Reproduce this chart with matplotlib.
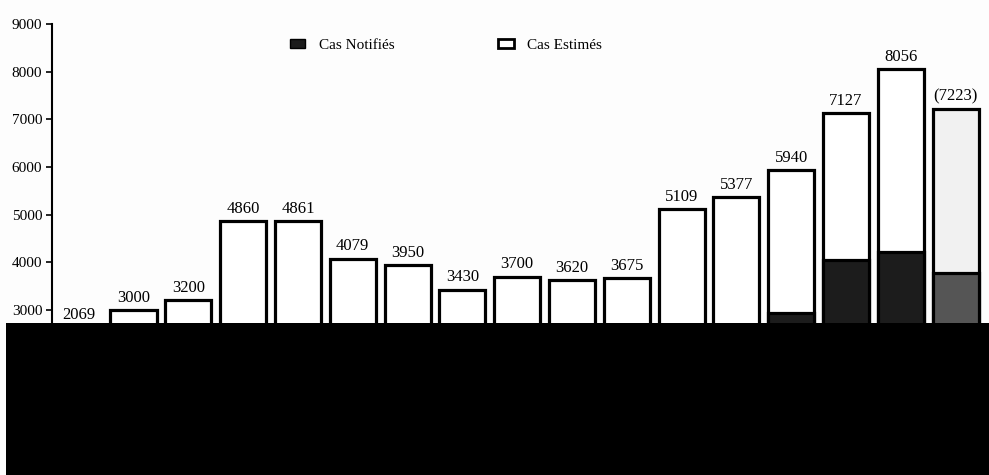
import matplotlib
matplotlib.use('Agg')
import matplotlib.pyplot as plt
from matplotlib.patches import Patch, Rectangle

plt.rcParams['font.family'] = ['Liberation Serif', 'DejaVu Serif']

# Estimated cases (white bars) and notified cases (dark part of each bar)
estimes = [2069, 3000, 3200, 4860, 4861, 4079, 3950, 3430, 3700, 3620, 3675,
           5109, 5377, 5940, 7127, 8056, 7223]
# notified values of the first bars lie under the masked area, rough guesses
notifies = [1200, 1500, 1600, 1900, 2000, 1800, 1900, 1700, 1800, 1900, 2100,
            2300, 2500, 2930, 4050, 4220, 3780]
etiquettes = ['2069', '3000', '3200', '4860', '4861', '4079', '3950', '3430',
              '3700', '3620', '3675', '5109', '5377', '5940', '7127', '8056',
              '(7223)']
yticks = [0, 1000, 2000, 3000, 4000, 5000, 6000, 7000, 8000, 9000]

fig = plt.figure(figsize=(9.89, 4.75), dpi=100)
fig.patch.set_facecolor('#fdfdfd')
ax = fig.add_axes([52 / 989, 22 / 475, 1 - 52 / 989, 429 / 475])
ax.set_facecolor('#fdfdfd')

x = list(range(len(estimes)))
# last bar is a provisional estimate: lighter shading
fill_est = ['white'] * (len(x) - 1) + ['#f1f1f1']
fill_not = ['#1c1c1c'] * (len(x) - 1) + ['#555555']

ax.bar(x, estimes, width=0.84, color=fill_est, edgecolor='black', linewidth=2.3, zorder=2)
ax.bar(x, notifies, width=0.84, color=fill_not, edgecolor='black', linewidth=2.3, zorder=3)

for xi, v, lab in zip(x, estimes, etiquettes):
    # the first label sits just above the cut-off in the original
    ax.annotate(lab, (xi, max(v, 2650)), xytext=(0, 3), textcoords='offset points',
                ha='center', va='bottom', fontsize=12)

ax.set_xlim(-0.487, 16.61)
ax.set_ylim(0, 9000)
ax.set_yticks(yticks)
ax.set_yticklabels([str(t) for t in yticks], fontsize=11)
ax.set_xticks([])
ax.tick_params(axis='y', direction='out', length=4, width=1.2, pad=3)
for side in ['top', 'right', 'bottom']:
    ax.spines[side].set_visible(False)
ax.spines['left'].set_linewidth(1.5)

handles = [Patch(facecolor='#1c1c1c', edgecolor='black', label='Cas Notifiés'),
           Patch(facecolor='white', edgecolor='black', linewidth=2, label='Cas Estimés')]
ax.legend(handles=handles, ncol=2, frameon=False, fontsize=11,
          loc='upper left', bbox_to_anchor=(0.239, 0.997),
          handlelength=1.0, handleheight=0.55, handletextpad=0.9, columnspacing=6.8)

# masked lower part of the source image
fig.add_artist(Rectangle((6 / 989, 0), 1 - 6 / 989, 152 / 475, transform=fig.transFigure,
                         facecolor='black', edgecolor='none', zorder=10))

fig.savefig('out.png', dpi=100, facecolor=fig.get_facecolor())
